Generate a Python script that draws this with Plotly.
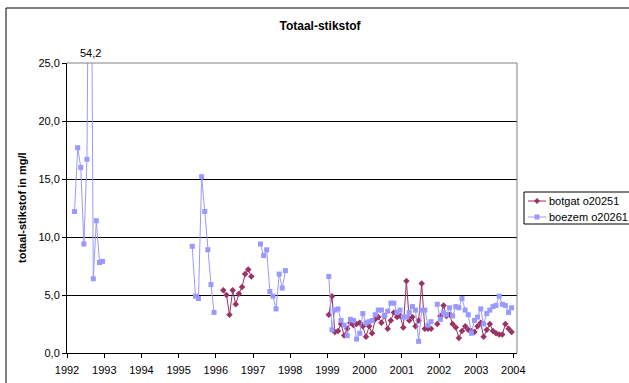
import pandas as pd
import plotly.graph_objects as go

# Monthly measurements of total nitrogen (mg/l); each block starts at the given month
botgat_1996 = [5.4, 5.0, 3.3, 5.4, 4.2, 5.1, 5.7, 6.8, 7.2, 6.6]            # Mar–Dec 1996
botgat_1999 = [3.3, 4.9, 1.8, 1.9, 2.5, 1.5, 2.1, 2.6, 2.4, 2.5, 2.6, 2.3,   # 1999
               1.4, 2.3, 1.7, 2.9, 3.1, 2.6, 3.2, 2.1, 2.8, 3.5, 3.1, 3.2,   # 2000
               2.2, 6.2, 2.8, 3.1, 2.3, 2.8, 6.0, 2.1, 2.1, 2.1]             # Jan–Oct 2001
botgat_2001 = [2.5,                                                          # Dec 2001
               3.2, 4.1, 3.2, 3.3, 2.5, 2.2, 1.3, 1.9, 2.3, 2.0, 1.9, 1.8,   # 2002
               2.3, 2.6, 1.4, 2.0, 2.5, 1.9, 1.7, 1.6, 1.6, 2.5, 2.1, 1.8]   # 2003

boezem_1992 = [12.2, 17.7, 16.0, 9.4, 16.7, 54.2, 6.4, 11.4, 7.8, 7.9]      # Mar–Dec 1992
boezem_1995 = [9.2, 4.9, 4.7, 15.2, 12.2, 8.9, 5.9, 3.5]                     # May–Dec 1995
boezem_1997 = [9.4, 8.4, 8.9, 5.3, 4.9, 3.8, 6.8, 5.6, 7.1]                  # Mar–Nov 1997
boezem_1999 = [6.6, 2.0, 3.7, 3.8, 2.8, 2.4, 1.5, 2.9, 2.8, 1.2, 1.7, 3.4,   # 1999
               2.6, 2.7, 2.8, 3.3, 3.7, 3.7, 3.2, 3.6, 4.3, 4.3, 3.5, 3.7,   # 2000
               3.1, 3.1, 3.5, 4.0, 3.7, 1.0, 3.7, 3.7, 2.4, 2.7]             # Jan–Oct 2001
boezem_2001 = [4.2,                                                          # Dec 2001
               2.9, 3.5, 3.3, 3.9, 3.2, 4.0, 3.9, 4.7, 3.7, 3.3, 1.7, 2.8,   # 2002
               3.1, 3.8, 2.5, 3.4, 3.7, 4.0, 4.1, 4.9, 4.2, 4.1, 3.5, 3.9]   # 2003

botgat_blocks = [("1996-03", botgat_1996), ("1999-01", botgat_1999), ("2001-12", botgat_2001)]
boezem_blocks = [("1992-03", boezem_1992), ("1995-05", boezem_1995),
                 ("1997-03", boezem_1997), ("1999-01", boezem_1999), ("2001-12", boezem_2001)]

series_names = ["botgat o20251", "boezem o20261"]
series_colors = ["#993366", "#9999FF"]

peak_label = "54,2"
peak_month = "1992-08"
year_ticks = list(range(1992, 2005))

all_months = pd.date_range("1992-01-01", "2003-12-01", freq="MS")


def monthly(blocks):
    """Place each block on a full monthly grid; missing months stay empty (gaps)."""
    s = pd.Series(index=all_months, dtype=float)
    for start, vals in blocks:
        idx = pd.date_range(start + "-01", periods=len(vals), freq="MS")
        s.loc[idx] = vals
    x = [(d + pd.Timedelta(days=14)).strftime("%Y-%m-%d") for d in s.index]
    y = [None if pd.isna(v) else float(v) for v in s.values]
    return x, y


FONT = "Arial, 'Liberation Sans', sans-serif"

# plot area in pixels
W, H = 629, 383
ML, MR, MT, MB = 67, 112, 63, 30
PW, PH = W - ML - MR, H - MT - MB


def px(xp):
    return (xp - ML) / PW


def py(yp):
    return (H - MB - yp) / PH


fig = go.Figure()

bx, by = monthly(botgat_blocks)
fig.add_trace(go.Scatter(
    x=bx, y=by, name=series_names[0], mode="lines+markers",
    line=dict(color=series_colors[0], width=1),
    marker=dict(symbol="diamond", size=5, color=series_colors[0]),
    connectgaps=False,
))

zx, zy = monthly(boezem_blocks)
fig.add_trace(go.Scatter(
    x=zx, y=zy, name=series_names[1], mode="lines+markers",
    line=dict(color=series_colors[1], width=1),
    marker=dict(symbol="square", size=5, color=series_colors[1]),
    connectgaps=False,
))

# value of the clipped peak written above the plot area
fig.add_annotation(
    x=peak_month + "-15", y=25, yref="y", xref="x",
    text=peak_label, showarrow=False, yanchor="bottom", yshift=2,
    font=dict(family=FONT, size=11, color="black"),
)

# y-axis title
fig.add_annotation(
    x=px(22), y=0.5, xref="paper", yref="paper", textangle=-90,
    xanchor="center", yanchor="middle",
    text="<b>totaal-stikstof in mg/l</b>", showarrow=False,
    font=dict(family=FONT, size=11, color="black"),
)

shapes = []
# outer chart frame
shapes.append(dict(type="rect", xref="paper", yref="paper",
                   x0=px(6), x1=px(700), y0=py(420), y1=py(8),
                   line=dict(color="black", width=1), layer="above"))
# plot area frame (top and right)
shapes.append(dict(type="line", xref="paper", yref="paper", x0=0, x1=1, y0=1, y1=1,
                   line=dict(color="#808080", width=1), layer="above"))
shapes.append(dict(type="line", xref="paper", yref="paper", x0=1, x1=1, y0=0, y1=1,
                   line=dict(color="#808080", width=1), layer="above"))

# legend box
shapes.append(dict(type="rect", xref="paper", yref="paper",
                   x0=px(524), x1=px(700), y0=py(224), y1=py(192),
                   line=dict(color="black", width=1), fillcolor="white", layer="above"))
legend_rows = [201, 217]
symbol_paths = ["M -3,0 L 0,3 L 3,0 L 0,-3 Z", "M -2.5,-2.5 L 2.5,-2.5 L 2.5,2.5 L -2.5,2.5 Z"]
for name, color, row, path in zip(series_names, series_colors, legend_rows, symbol_paths):
    shapes.append(dict(type="line", xref="paper", yref="paper",
                       x0=px(528), x1=px(546), y0=py(row), y1=py(row),
                       line=dict(color=color, width=1), layer="above"))
    shapes.append(dict(type="path", xref="paper", yref="paper",
                       xsizemode="pixel", ysizemode="pixel",
                       xanchor=px(537), yanchor=py(row), path=path,
                       fillcolor=color, line=dict(color=color, width=0), layer="above"))
    fig.add_annotation(x=px(547), y=py(row), xref="paper", yref="paper",
                       xanchor="left", yanchor="middle", text=name, showarrow=False,
                       font=dict(family=FONT, size=11, color="black"))

fig.update_layout(
    width=W, height=H,
    margin=dict(l=ML, r=MR, t=MT, b=MB, autoexpand=False),
    paper_bgcolor="white", plot_bgcolor="white",
    separators=",.",
    showlegend=False,
    shapes=shapes,
    font=dict(family=FONT, size=11, color="black"),
    title=dict(text="<b>Totaal-stikstof</b>", x=320 / W, xref="container", xanchor="center",
               y=1 - 26 / H, yref="container", yanchor="middle",
               font=dict(family=FONT, size=12, color="black")),
    xaxis=dict(
        type="date", range=["1992-01-01", "2004-02-06"],
        tickvals=[f"{y}-01-01" for y in year_ticks],
        ticktext=[str(y) for y in year_ticks],
        showgrid=False, zeroline=False,
        showline=True, linecolor="black", linewidth=1,
        ticks="outside", ticklen=4, tickcolor="black",
        ticklabelstandoff=3,
        tickfont=dict(family=FONT, size=11, color="black"),
    ),
    yaxis=dict(
        range=[0, 25], tickvals=[0, 5, 10, 15, 20, 25], tickformat=".1f",
        showgrid=True, gridcolor="black", gridwidth=1, zeroline=False,
        showline=True, linecolor="black", linewidth=1,
        ticks="outside", ticklen=4, tickcolor="black",
        tickfont=dict(family=FONT, size=11, color="black"),
    ),
)

fig.write_html("out.html")
